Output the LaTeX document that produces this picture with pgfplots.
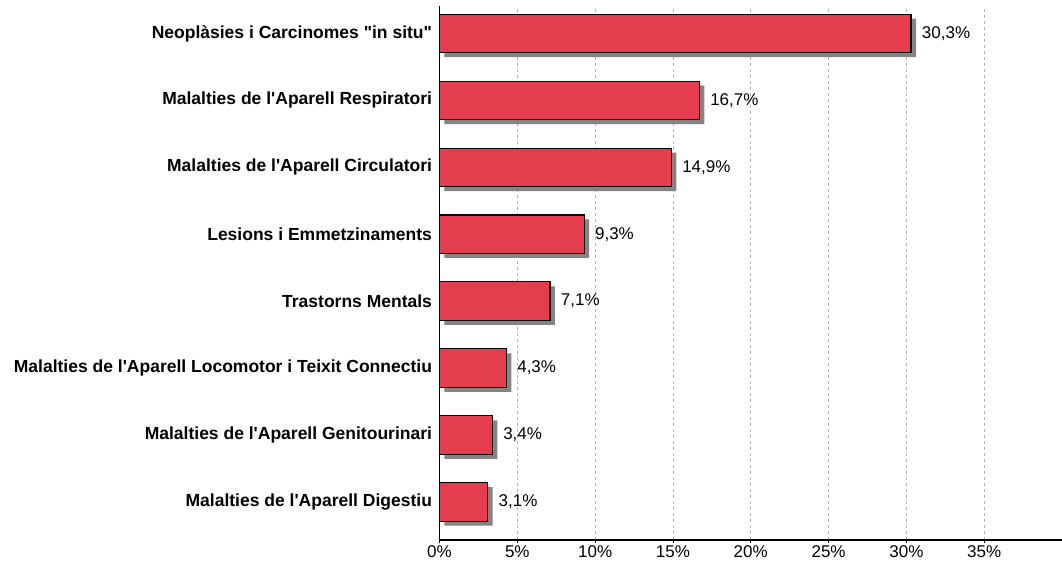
\documentclass[border=0pt]{standalone}
\usepackage{pgfplots}
\pgfplotsset{compat=1.18}
\usepackage{fontspec}
\setmainfont{Liberation Sans}[Ligatures=TeXOff]
\definecolor{barred}{HTML}{E43D4E}
\definecolor{shadowgray}{HTML}{848484}
\begin{document}
\begin{tikzpicture}
\begin{axis}[
  scale only axis, width=622.5pt, height=534pt,
  xmin=0, xmax=40, ymin=-0.568, ymax=7.41,
  axis x line*=bottom, axis y line*=left,
  axis line style={line width=1.2pt, black},
  /pgf/number format/assume math mode=true,
  xtick={0,5,...,35},
  xticklabel={\pgfmathprintnumber{\tick}\%},
  xmajorgrids, grid style={dashed, black!30, line width=0.6pt},
  tick align=outside, major tick length=3pt,
  x tick style={black, line width=0.8pt},
  ytick={0,...,7},
  y tick style={draw=none},
  yticklabels={Malalties de l'Aparell Digestiu,
    Malalties de l'Aparell Genitourinari,
    Malalties de l'Aparell Locomotor i Teixit Connectiu,
    Trastorns Mentals,
    Lesions i Emmetzinaments,
    Malalties de l'Aparell Circulatori,
    Malalties de l'Aparell Respiratori,
    Neoplàsies i Carcinomes "in situ"},
  yticklabel style={font=\fontsize{17.5}{20}\selectfont\bfseries, xshift=-1pt},
  xticklabel style={font=\fontsize{17}{19}\selectfont, yshift=1pt},
  clip=false,
]
\addplot[xbar, bar width=38.5pt, bar shift=-4.5pt, xshift=5pt, fill=shadowgray, draw=none]
 coordinates {(3.1,0) (3.4,1) (4.3,2) (7.1,3) (9.3,4) (14.9,5) (16.7,6) (30.3,7)};
\addplot[xbar, bar width=38.5pt, bar shift=0pt, fill=barred, draw=black, line width=1.1pt,
  point meta=x,
  nodes near coords={\pgfmathprintnumber[fixed,fixed zerofill,precision=1,use comma]{\pgfplotspointmeta}\%},
  nodes near coords style={anchor=west, xshift=7pt, font=\fontsize{17}{19}\selectfont, black}]
 coordinates {(3.1,0) (3.4,1) (4.3,2) (7.1,3) (9.3,4) (14.9,5) (16.7,6) (30.3,7)};
\end{axis}
\pgfresetboundingbox
\path (-439.5pt,-25pt) rectangle (622.5pt,540pt);
\end{tikzpicture}
\end{document}
